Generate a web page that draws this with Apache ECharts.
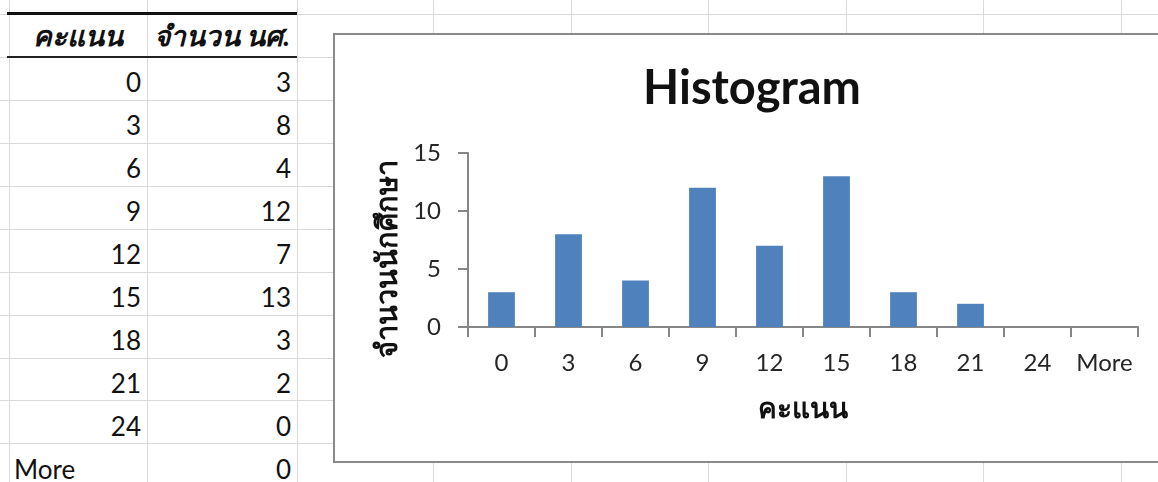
<!DOCTYPE html>
<html>
<head>
<meta charset="utf-8">
<script src="https://cdn.jsdelivr.net/npm/echarts@6/dist/echarts.min.js"></script>
<style>
  html, body { margin: 0; padding: 0; background: #fff; overflow: hidden; }
  #page { position: relative; width: 1158px; height: 482px; overflow: hidden; font-family: Lato, "Noto Sans", sans-serif; }
  .hl { position: absolute; left: 0; width: 1158px; height: 1px; background: #d9d9d9; }
  .vl { position: absolute; top: 0; height: 482px; width: 1px; background: #d9d9d9; }
  .cell { position: absolute; font-size: 26px; color: #111; line-height: 26px; }
  #box { position: absolute; left: 333px; top: 33px; width: 900px; height: 430px; box-sizing: border-box;
         border: 2px solid #8a8a8a; background: #fff; }
  #chart { position: absolute; left: 0; top: 0; width: 1158px; height: 482px; }
</style>
</head>
<body>
<div id="page"></div>
<script>
// histogram data (read from the sheet)
const scoreBins = ["0", "3", "6", "9", "12", "15", "18", "21", "24", "More"];
const studentCounts = [3, 8, 4, 12, 7, 13, 3, 2, 0, 0];
const yTicks = [0, 5, 10, 15];
const colHeaders = ["คะแนน", "จำนวน นศ."];

// sheet grid
const rowLines = [14, 57, 100, 143, 186, 229, 272, 315, 358, 400, 443];
const colLines = [9, 147, 297, 433, 571, 708, 846, 983, 1121];

const page = document.getElementById("page");
function add(cls, style, text) {
	const d = document.createElement("div");
	d.className = cls;
	Object.assign(d.style, style);
	if (text != null) d.textContent = text;
	page.appendChild(d);
	return d;
}
rowLines.forEach((y) => add("hl", { top: y + "px" }));
colLines.forEach((x) => add("vl", { left: x + "px" }));

// table borders
add("", { position: "absolute", left: "7px", top: "12px", width: "290px", height: "3px", background: "#111" });
add("", { position: "absolute", left: "7px", top: "56px", width: "290px", height: "2px", background: "#222" });

// header cells, bold italic, centred
const headStyle = { top: "21px", textAlign: "center", fontWeight: "bold", fontStyle: "italic", fontSize: "28px", lineHeight: "28px" };
add("cell", Object.assign({ left: "9px", width: "138px" }, headStyle), colHeaders[0]);
add("cell", Object.assign({ left: "147px", width: "150px" }, headStyle), colHeaders[1]);

// data rows
scoreBins.forEach((bin, i) => {
	const top = 57 + i * 43 + 12;
	const isNum = bin !== "More";
	add("cell", isNum
		? { left: "9px", width: "132px", top: top + "px", textAlign: "right" }
		: { left: "14px", width: "132px", top: top + "px", textAlign: "left" }, bin);
	add("cell", { left: "147px", width: "144px", top: top + "px", textAlign: "right" }, String(studentCounts[i]));
});

// chart frame
add("", {}).id = "box";
add("", {}).id = "chart";

const chart = echarts.init(document.getElementById("chart"), null, { renderer: "canvas" });
const labelColor = "#262626";
const axisColor = "#878787";
const thaiFont = "Lato, 'Noto Sans', sans-serif";

chart.setOption({
	backgroundColor: "transparent",
	animation: false,
	title: {
		text: "Histogram",
		left: 747,
		top: 60,
		textAlign: "center",
		textStyle: { fontFamily: "Lato", fontWeight: "bold", fontSize: 47, color: "#111" },
	},
	grid: { left: 468, top: 153, right: 20, bottom: 155 },
	xAxis: {
		type: "category",
		data: scoreBins,
		name: "คะแนน",
		nameLocation: "middle",
		nameGap: 68,
		nameTextStyle: { fontFamily: thaiFont, fontWeight: "bold", fontSize: 28, color: "#111" },
		axisLine: { lineStyle: { color: axisColor, width: 2 } },
		axisTick: { show: true, length: 10, lineStyle: { color: axisColor, width: 2 } },
		axisLabel: { interval: 0, margin: 24, fontFamily: "Lato", fontSize: 24, color: labelColor },
		splitLine: { show: false },
	},
	yAxis: {
		type: "value",
		min: yTicks[0],
		max: yTicks[yTicks.length - 1],
		interval: yTicks[1] - yTicks[0],
		name: "จำนวนนักศึกษา",
		nameLocation: "middle",
		nameGap: 61,
		nameTextStyle: { fontFamily: thaiFont, fontWeight: "bold", fontSize: 29, color: "#111", padding: [0, 38, 0, 0] },
		axisLine: { show: true, lineStyle: { color: axisColor, width: 2 } },
		axisTick: { show: true, length: 10, lineStyle: { color: axisColor, width: 2 } },
		axisLabel: { margin: 27, fontFamily: "Lato", fontSize: 24, color: labelColor },
		splitLine: { show: false },
	},
	series: [
		{
			type: "bar",
			data: studentCounts,
			barCategoryGap: "60%",
			itemStyle: { color: "#4f81bd" },
		},
	],
});
</script>
</body>
</html>
